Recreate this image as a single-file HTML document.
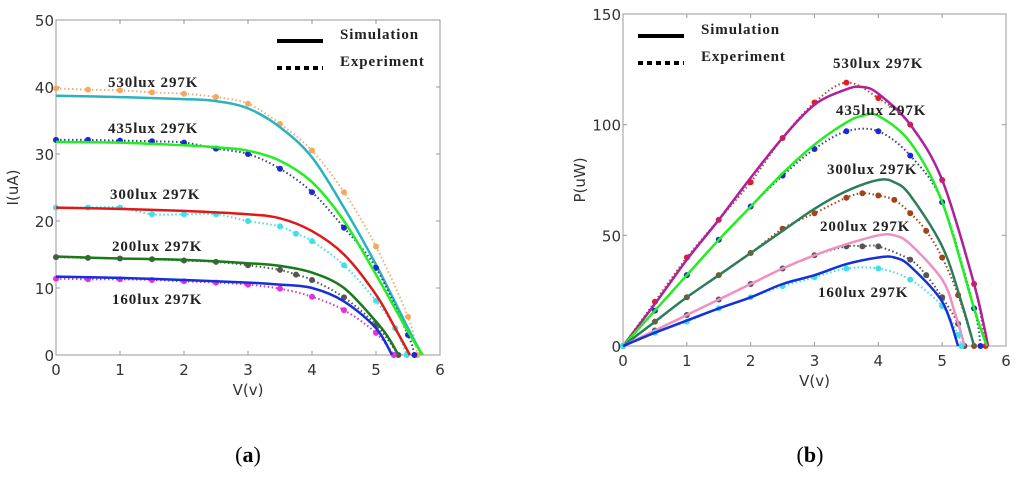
<!DOCTYPE html>
<html><head><meta charset="utf-8"><style>
html,body{margin:0;padding:0;background:#fff;}
svg{display:block;}
</style></head><body>
<svg id="fig" width="1024" height="478" xmlns="http://www.w3.org/2000/svg"></svg>
<script>
// ---- Chart (a): I-V data ----
const ivSimV530=[0,1,2,2.5,3,3.5,4,4.5,5,5.5,5.72];
const ivSimI530=[38.7,38.5,38.2,37.9,36.8,34,29.5,22,13.5,4,0];
const ivExpV530=[0,0.5,1,1.5,2,2.5,3,3.5,4,4.5,5,5.5,5.65];
const ivExpI530=[39.8,39.6,39.5,39.2,39,38.5,37.5,34.5,30.5,24.3,16.2,5.7,0];
const ivSimV435=[0,1,2,2.5,3,3.5,4,4.5,5,5.5,5.73];
const ivSimI435=[31.8,31.7,31.3,31,30.5,29,25.8,20,12,3.5,0];
const ivExpV435=[0,0.5,1,1.5,2,2.5,3,3.5,4,4.5,5,5.5,5.6];
const ivExpI435=[32.1,32.1,32,31.9,31.7,30.8,30,27.8,24.3,19,13,3,0];
const ivSimV300=[0,1,2,3,3.5,4,4.5,5,5.3,5.53];
const ivSimI300=[22,21.8,21.5,21,20.4,18.5,15,9,4,0];
const ivExpV300=[0,0.5,1,1.5,2,2.5,3,3.5,3.75,4,4.5,5,5.3,5.48];
const ivExpI300=[22,22,22,21,21,21,20,19.2,18.1,17,13.4,8.1,4,0];
const ivSimV200=[0,1,2,3,3.5,4,4.5,5,5.2,5.35];
const ivSimI200=[14.7,14.4,14.2,13.7,13.3,12.3,10,5,2.5,0];
const ivExpV200=[0,0.5,1,1.5,2,2.5,3,3.5,3.75,4,4.5,5,5.35];
const ivExpI200=[14.6,14.5,14.4,14.3,14.1,13.9,13.4,12.7,12,11.2,8.6,4.5,0];
const ivSimV160=[0,1,2,3,3.5,4,4.5,5,5.25];
const ivSimI160=[11.7,11.5,11.2,10.8,10.5,10,8,4,0];
const ivExpV160=[0,0.5,1,1.5,2,2.5,3,3.5,4,4.5,5,5.28];
const ivExpI160=[11.4,11.3,11.3,11.2,11,10.8,10.5,9.9,8.7,6.7,3.3,0];
// ---- Chart (b): P-V data ----
const pvSimV530=[0,0.5,1,1.5,2,2.5,3,3.5,3.75,4,4.5,5,5.5,5.72];
const pvSimP530=[0,19,39,57,76,94,109,116,117,114,100,75,28,0];
const pvExpV530=[0,0.5,1,1.5,2,2.5,3,3.5,4,4.5,5,5.5,5.68];
const pvExpP530=[0,20,40,57,74,94,110,119,112,100,75,28,0];
const pvSimV435=[0,0.5,1,1.5,2,2.5,3,3.5,3.75,4,4.5,5,5.5,5.7];
const pvSimP435=[0,16,32,48,63,78,91,101,104,104,92,65,17,0];
const pvExpV435=[0,0.5,1,1.5,2,2.5,3,3.5,4,4.5,5,5.5,5.6];
const pvExpP435=[0,16,32,48,63,77,89,97,97,86,65,17,0];
const pvSimV300=[0,0.5,1,1.5,2,2.5,3,3.5,4,4.25,4.5,5,5.3,5.5];
const pvSimP300=[0,11,22,32,42,52,62,70,75,74,68,45,20,0];
const pvExpV300=[0,0.5,1,1.5,2,2.5,3,3.5,3.75,4,4.25,4.5,4.75,5,5.25,5.5];
const pvExpP300=[0,11,22,32,42,53,60,67,69,68,66,60,52,40,23,0];
const pvSimV200=[0,0.5,1,1.5,2,2.5,3,3.5,4,4.25,4.5,5,5.2,5.35];
const pvSimP200=[0,7,14,21,28,35,41,46,50,50,46,30,15,0];
const pvExpV200=[0,0.5,1,1.5,2,2.5,3,3.5,3.75,4,4.5,4.75,5,5.25,5.35];
const pvExpP200=[0,7,14,21,28,35,41,45,45,45,39,32,22,10,0];
const pvSimV160=[0,0.5,1,1.5,2,2.5,3,3.5,4,4.25,4.5,5,5.25];
const pvSimP160=[0,6,11.5,17,22,28,32,37,40,40,36,20,0];
const pvExpV160=[0,0.5,1,1.5,2,2.5,3,3.5,4,4.5,5,5.25,5.3];
const pvExpP160=[0,6,11,17,22,27,31,35,35,30,18,5,0];
const xTicks=[0,1,2,3,4,5,6];
const iTicks=[0,10,20,30,40,50];
const pTicks=[0,50,100,150];

const NS='http://www.w3.org/2000/svg';
const svg=document.getElementById('fig');
function el(tag,attrs,parent){const e=document.createElementNS(NS,tag);for(const k in attrs)e.setAttribute(k,attrs[k]);(parent||svg).appendChild(e);return e;}
function txt(s,attrs,parent){const e=el('text',attrs,parent);e.textContent=s;return e;}

function makeChart(name,L,R,T,B,ymax,yTicks,ylabel){
  const g=el('g',{});
  
  
  const sx=v=>L+(R-L)*v/6, sy=v=>B-(B-T)*v/ymax;
  const box=el('rect',{x:L,y:T,width:R-L,height:B-T,fill:'none',stroke:'#999','stroke-width':1},g);
  
  
  xTicks.forEach(t=>{
    el('line',{x1:sx(t),x2:sx(t),y1:B,y2:B-4,stroke:'#999'},g);
    el('line',{x1:sx(t),x2:sx(t),y1:T,y2:T+4,stroke:'#999'},g);
    const l=txt(String(t),{x:sx(t),y:B+20,'font-family':'DejaVu Sans, sans-serif','font-size':15,fill:'#333','text-anchor':'middle'},g);
    
    
  });
  yTicks.forEach(t=>{
    el('line',{x1:L,x2:L+4,y1:sy(t),y2:sy(t),stroke:'#999'},g);
    el('line',{x1:R,x2:R-4,y1:sy(t),y2:sy(t),stroke:'#999'},g);
    const l=txt(String(t),{x:L-2,y:sy(t)+6,'font-family':'DejaVu Sans, sans-serif','font-size':15,fill:'#333','text-anchor':'end'},g);
    
    
  });
  const xl=txt('V(v)',{x:(L+R)/2,y:B+40,'font-family':'DejaVu Sans, sans-serif','font-size':15,fill:'#333','text-anchor':'middle'},g);
  
  
  const yl=txt(ylabel,{x:0,y:0,'font-family':'DejaVu Sans, sans-serif','font-size':15,fill:'#333','text-anchor':'middle',transform:`translate(${L-38},${(T+B)/2}) rotate(-90)`},g);
  
  
  return {g,sx,sy};
}
function smoothPath(P){
  let d='M'+P[0][0].toFixed(1)+','+P[0][1].toFixed(1);
  for(let i=0;i<P.length-1;i++){
    const p0=P[Math.max(0,i-1)],p1=P[i],p2=P[i+1],p3=P[Math.min(P.length-1,i+2)];
    const c1x=p1[0]+(p2[0]-p0[0])/6,c1y=p1[1]+(p2[1]-p0[1])/6;
    const c2x=p2[0]-(p3[0]-p1[0])/6,c2y=p2[1]-(p3[1]-p1[1])/6;
    d+=` C${c1x.toFixed(1)},${c1y.toFixed(1)} ${c2x.toFixed(1)},${c2y.toFixed(1)} ${p2[0].toFixed(1)},${p2[1].toFixed(1)}`;
  }
  return d;
}
function series(c,xs,ys,color,dotted,dotColor,name){
  const P=xs.map((x,i)=>[c.sx(x),c.sy(ys[i])]);
  const p=el('path',{d:smoothPath(P),fill:'none',stroke:color,'stroke-width':dotted?2:2.5,'stroke-dasharray':dotted?'1.5 2.5':'none','stroke-linejoin':'round'},c.g);
  
  
  if(dotted){xs.forEach((x,i)=>{
    const d=el('circle',{cx:c.sx(x),cy:c.sy(ys[i]),r:3,fill:dotColor},c.g);
    
    
  });}
}
function label(g,s,x,y,name){
  const t=txt(s,{x:x,y:y,'font-family':'Liberation Serif, serif','font-weight':'bold','font-size':15,'letter-spacing':'0.9',fill:'#222','xml:space':'preserve'},g);
  
  
}
function legend(g,x,y){
  const a=el('line',{x1:x,x2:x+46,y1:y,y2:y,stroke:'#000','stroke-width':4},g);
  
  
  label(g,'Simulation',x+63,y-2,'legend-simulation');
  const b=el('line',{x1:x,x2:x+46,y1:y+27,y2:y+27,stroke:'#000','stroke-width':4,'stroke-dasharray':'5 4'},g);
  
  
  label(g,'Experiment',x+63,y+25,'legend-experiment');
}

// Chart a
const A=makeChart('iv-chart',56,440,20,355,50,iTicks,'I(uA)');
series(A,ivExpV530,ivExpI530,'#e8b080',true,'#f4a860','iv-exp-530');
series(A,ivSimV530,ivSimI530,'#2ab3bd',false,null,'iv-sim-530');
series(A,ivExpV435,ivExpI435,'#334488',true,'#1a2ad0','iv-exp-435');
series(A,ivSimV435,ivSimI435,'#22ee22',false,null,'iv-sim-435');
series(A,ivExpV300,ivExpI300,'#40dde8',true,'#40e0ea','iv-exp-300');
series(A,ivSimV300,ivSimI300,'#e01818',false,null,'iv-sim-300');
series(A,ivExpV200,ivExpI200,'#555555',true,'#555','iv-exp-200');
series(A,ivSimV200,ivSimI200,'#1a7a1a',false,null,'iv-sim-200');
series(A,ivExpV160,ivExpI160,'#c040c8',true,'#e030e0','iv-exp-160');
series(A,ivSimV160,ivSimI160,'#1530d8',false,null,'iv-sim-160');
legend(A.g,277,41);
label(A.g,'530lux  297K',108,87,'label-530');
label(A.g,'435lux  297K',108,133,'label-435');
label(A.g,'300lux  297K',110,199,'label-300');
label(A.g,'200lux  297K',112,251,'label-200');
label(A.g,'160lux  297K',112,304,'label-160');

// Chart b
const Bc=makeChart('pv-chart',623,1006,14,346,150,pTicks,'P(uW)');
series(Bc,pvExpV530,pvExpP530,'#a05050',true,'#e02020','pv-exp-530');
series(Bc,pvSimV530,pvSimP530,'#b0209a',false,null,'pv-sim-530');
series(Bc,pvExpV435,pvExpP435,'#334488',true,'#1a2ad0','pv-exp-435');
series(Bc,pvSimV435,pvSimP435,'#22ee22',false,null,'pv-sim-435');
series(Bc,pvExpV300,pvExpP300,'#a0441a',true,'#a0441a','pv-exp-300');
series(Bc,pvSimV300,pvSimP300,'#2e7d5a',false,null,'pv-sim-300');
series(Bc,pvExpV200,pvExpP200,'#555555',true,'#555','pv-exp-200');
series(Bc,pvSimV200,pvSimP200,'#f090c0',false,null,'pv-sim-200');
series(Bc,pvExpV160,pvExpP160,'#40dde8',true,'#40e0ea','pv-exp-160');
series(Bc,pvSimV160,pvSimP160,'#1530d8',false,null,'pv-sim-160');
legend(Bc.g,638,36);
label(Bc.g,'530lux   297K',833,68,'label-530');
label(Bc.g,'435lux     297K',836,115,'label-435');
label(Bc.g,'300lux  297K',827,174,'label-300');
label(Bc.g,'200lux   297K',820,231,'label-200');
label(Bc.g,'160lux  297K',818,297,'label-160');

// captions
const ca=el('text',{x:248,y:462,'font-family':'Liberation Serif, serif','font-size':22,'text-anchor':'middle',fill:'#000'});


ca.innerHTML='(<tspan font-weight="bold">a</tspan>)';
const cb=el('text',{x:810,y:462,'font-family':'Liberation Serif, serif','font-size':22,'text-anchor':'middle',fill:'#000'});


cb.innerHTML='(<tspan font-weight="bold">b</tspan>)';
</script>
</body></html>
